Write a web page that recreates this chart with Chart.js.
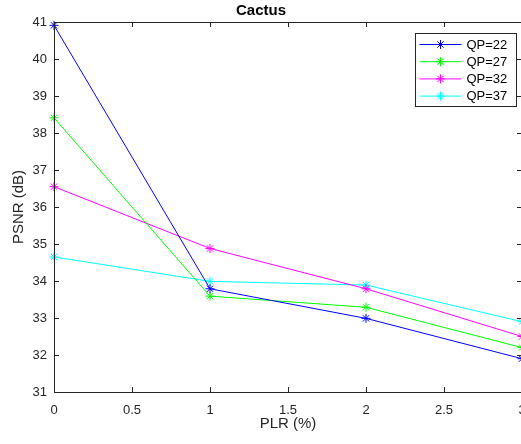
<!DOCTYPE html>
<html>
<head>
<meta charset="utf-8">
<script src="https://cdn.jsdelivr.net/npm/chart.js@4"></script>
<style>
  html, body { margin: 0; padding: 0; background: #fff; overflow: hidden; }
  canvas { display: block; }
</style>
</head>
<body>
<canvas id="c" width="531" height="444"></canvas>
<script>
// PLR values on the x axis
var plr = [0, 1, 2, 3];

// PSNR per QP
var qp22 = [40.91, 33.79, 32.99, 31.90];
var qp27 = [38.41, 33.59, 33.29, 32.20];
var qp32 = [36.55, 34.88, 33.79, 32.50];
var qp37 = [34.65, 33.99, 33.89, 32.90];

var seriesNames = ['QP=22', 'QP=27', 'QP=32', 'QP=37'];
var seriesColors = ['#0000ff', '#00ff00', '#ff00ff', '#00ffff'];

var axisColor = '#262626';
var fontFamily = 'Arial, "Liberation Sans", Helvetica, sans-serif';

function toPoints(ys) {
    return plr.map(function (x, i) { return { x: x, y: ys[i] }; });
}

var datasets = [qp22, qp27, qp32, qp37].map(function (ys, i) {
    return {
        label: seriesNames[i],
        data: toPoints(ys),
        borderColor: seriesColors[i],
        backgroundColor: seriesColors[i],
        borderWidth: 1,
        pointStyle: 'star',
        pointRadius: 4.5,
        pointBorderWidth: 1,
        tension: 0,
        clip: false
    };
});

// box round the axes, ticks pointing inward, and a matlab style legend
var matlabAxes = {
    id: 'matlabAxes',
    afterDatasetsDraw: function (chart) {
        var ctx = chart.ctx;
        var a = chart.chartArea;
        var xs = chart.scales.x, ys = chart.scales.y;
        var tl = 5;
        ctx.save();
        ctx.strokeStyle = axisColor;
        ctx.lineWidth = 1;
        ctx.beginPath();
        ctx.rect(Math.round(a.left) + 0.5, Math.round(a.top) + 0.5,
                 Math.round(a.right - a.left), Math.round(a.bottom - a.top));
        xs.ticks.forEach(function (t) {
            var px = Math.round(xs.getPixelForValue(t.value)) + 0.5;
            ctx.moveTo(px, a.bottom); ctx.lineTo(px, a.bottom - tl);
            ctx.moveTo(px, a.top); ctx.lineTo(px, a.top + tl);
        });
        ys.ticks.forEach(function (t) {
            var py = Math.round(ys.getPixelForValue(t.value)) + 0.5;
            ctx.moveTo(a.left, py); ctx.lineTo(a.left + tl, py);
            ctx.moveTo(a.right, py); ctx.lineTo(a.right - tl, py);
        });
        ctx.stroke();

        // legend
        var bw = 101, bh = 73;
        var bx = Math.round(a.right - 6 - bw) + 0.5;
        var by = Math.round(a.top + 11) + 0.5;
        ctx.fillStyle = '#fff';
        ctx.fillRect(bx, by, bw, bh);
        ctx.strokeRect(bx, by, bw, bh);
        ctx.font = '13px ' + fontFamily;
        ctx.textBaseline = 'middle';
        ctx.textAlign = 'left';
        chart.data.datasets.forEach(function (ds, i) {
            var ry = by + 11 + i * 17.2;
            ctx.strokeStyle = ds.borderColor;
            ctx.beginPath();
            ctx.moveTo(bx + 4, ry); ctx.lineTo(bx + 46, ry);
            ctx.stroke();
            Chart.helpers.drawPoint(ctx, { pointStyle: 'star', radius: 4.5, borderWidth: 1 }, bx + 25, ry);
            ctx.fillStyle = '#000';
            ctx.fillText(ds.label, bx + 51, ry + 0.5);
        });
        ctx.restore();
    }
};

new Chart(document.getElementById('c'), {
    type: 'line',
    data: { datasets: datasets },
    options: {
        responsive: false,
        animation: false,
        events: [],
        layout: { padding: { left: 0, right: 9, top: 0, bottom: 0 } },
        plugins: {
            legend: { display: false },
            tooltip: { enabled: false },
            title: {
                display: true,
                text: 'Cactus',
                color: '#000',
                font: { family: fontFamily, size: 15, weight: 'bold', lineHeight: 1.2 },
                padding: { top: 2, bottom: 2 }
            }
        },
        scales: {
            x: {
                type: 'linear',
                min: 0,
                max: 3,
                grid: { display: false, drawTicks: false },
                border: { display: false },
                ticks: {
                    stepSize: 0.5,
                    padding: 11,
                    color: axisColor,
                    font: { family: fontFamily, size: 13 },
                    callback: function (v) { return String(Number(v.toFixed(2))); }
                },
                title: {
                    display: true,
                    text: 'PLR (%)',
                    color: axisColor,
                    font: { family: fontFamily, size: 15, lineHeight: 1.2 },
                    padding: { top: 11, bottom: 11 }
                },
                afterFit: function (s) { s.height = 52; s.paddingLeft = 0; s.paddingRight = 0; }
            },
            y: {
                min: 31,
                max: 41,
                grid: { display: false, drawTicks: false },
                border: { display: false },
                ticks: { stepSize: 1, padding: 7, color: axisColor, font: { family: fontFamily, size: 13 } },
                title: {
                    display: true,
                    text: 'PSNR (dB)',
                    color: axisColor,
                    font: { family: fontFamily, size: 15, lineHeight: 1.2 },
                    padding: { top: 10, bottom: 10 }
                },
                afterFit: function (s) { s.width = 54; s.paddingTop = 0; s.paddingBottom = 0; }
            }
        }
    },
    plugins: [matlabAxes]
});
</script>
</body>
</html>
